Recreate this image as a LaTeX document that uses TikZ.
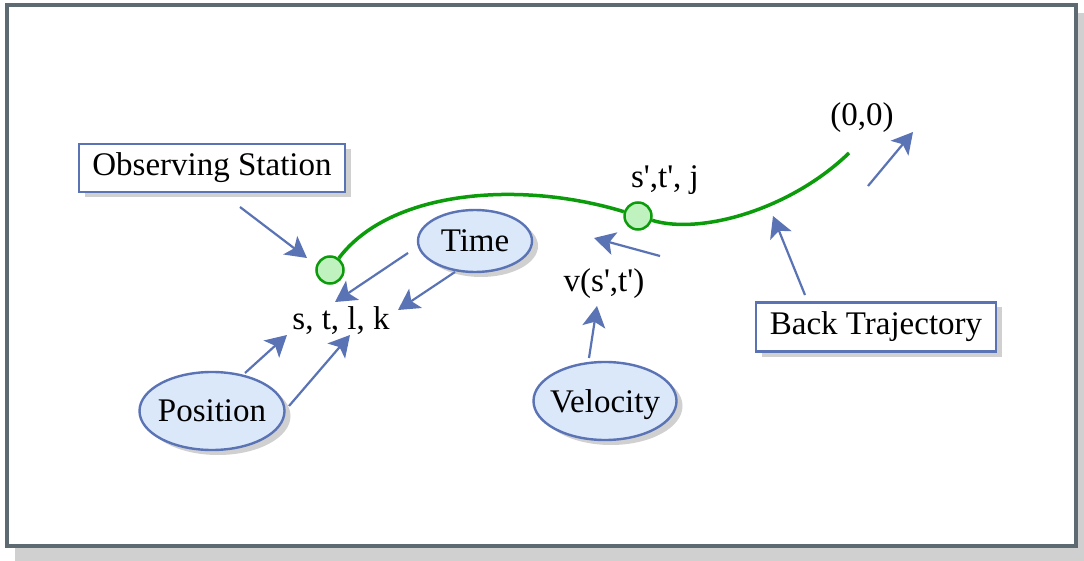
\documentclass[tikz,border=0pt]{standalone}
\usepackage{fontspec}
\setmainfont{Liberation Serif}[Ligatures=TeXOff]
\usetikzlibrary{shapes.geometric,arrows.meta,shadows}

\definecolor{frameclr}{HTML}{5E6A72}
\definecolor{shadowclr}{HTML}{D0D0D0}
\definecolor{edgeblue}{HTML}{5A73B5}
\definecolor{bubblefill}{HTML}{DBE8FA}
\definecolor{trackgreen}{HTML}{0B9B0B}
\definecolor{dotfill}{HTML}{BFF2BF}

\tikzset{
  bigfont/.style={font=\fontsize{33}{40}\selectfont},
  plaintext/.style={bigfont, inner sep=0pt},
  tagbox/.style={bigfont, rectangle, draw=edgeblue, line width=2.4pt, fill=white,
    inner sep=0pt,
    drop shadow={shadow xshift=6pt, shadow yshift=-5pt, fill=shadowclr, opacity=1}},
  bubble/.style={bigfont, ellipse, draw=edgeblue, line width=2.4pt, fill=bubblefill,
    inner sep=0pt,
    drop shadow={shadow xshift=6pt, shadow yshift=-5pt, fill=shadowclr, opacity=1}},
  station/.style={circle, draw=trackgreen, fill=dotfill, line width=2.5pt,
    minimum size=27pt, inner sep=0pt},
  track/.style={trackgreen, line width=3.5pt},
  pointer/.style={edgeblue, line width=2.2pt,
    -{Stealth[length=21pt, width=23pt, inset=5pt]}},
}
% centred word with its descender ignored
\newcommand{\bubbleword}[1]{\makebox[0pt]{\raisebox{0pt}[\height][0pt]{#1}}}

\begin{document}
\begin{tikzpicture}[x=1pt, y=-1pt]
\useasboundingbox (0,0) rectangle (1084,561);

% page frame with its shadow
\fill[shadowclr] (15,13) rectangle (1090,561);
\draw[frameclr, line width=4.5pt, fill=white] (7,5) rectangle (1076,546);

% labelled boxes
\node[tagbox, minimum width=266pt, minimum height=48pt] (obs) at (212,168) {Observing Station};
\node[tagbox, minimum width=240pt, minimum height=49pt] (back) at (876,327) {Back Trajectory};

% ellipses
\node[bubble, minimum width=114pt, minimum height=62pt] (time) at (475,241) {\bubbleword{Time}};
\node[bubble, minimum width=143pt, minimum height=78pt] (vel) at (605,401) {\bubbleword{Velocity}};
\node[bubble, minimum width=145pt, minimum height=78pt] (pos) at (212,411) {\bubbleword{Position}};

% plain labels
\node[plaintext, anchor=base] (stlk) at (341,330) {s, t, l, k};
\node[plaintext, anchor=base] (stj) at (665,188) {s',t', j};
\node[plaintext, anchor=base] (vst) at (604,291) {v(s',t')};
\node[plaintext, anchor=base] (origin) at (862,126) {(0,0)};

% trajectory with its two points
\node[station] (start) at (330,270) {};
\node[station] (mid) at (638,216) {};
\coordinate (trackend) at (849,153);
\draw[track] (start) .. controls (390,190) and (520,180) .. (mid);
\draw[track] (mid) .. controls (700,235) and (790,210) .. (trackend);

% pointer ends
\coordinate (obsA) at (240,207);   \coordinate (obsB) at (307,258);
\coordinate (timeA) at (408,253);  \coordinate (timeB) at (335,302);
\coordinate (timeC) at (455,272);  \coordinate (timeD) at (398,310);
\coordinate (posA) at (245,373);   \coordinate (posB) at (287,335);
\coordinate (posC) at (289,406);   \coordinate (posD) at (350,335);
\coordinate (midA) at (660,256);   \coordinate (midB) at (594,238);
\coordinate (velA) at (589,358);   \coordinate (velB) at (597,306);
\coordinate (backA) at (805,295);  \coordinate (backB) at (773,216);
\coordinate (endA) at (868,186);   \coordinate (endB) at (913,132);

\draw[pointer] (obsA) -- (obsB);
\draw[pointer] (timeA) -- (timeB);
\draw[pointer] (timeC) -- (timeD);
\draw[pointer] (posA) -- (posB);
\draw[pointer] (posC) -- (posD);
\draw[pointer] (midA) -- (midB);
\draw[pointer] (velA) -- (velB);
\draw[pointer] (backA) -- (backB);
\draw[pointer] (endA) -- (endB);
\end{tikzpicture}
\end{document}
